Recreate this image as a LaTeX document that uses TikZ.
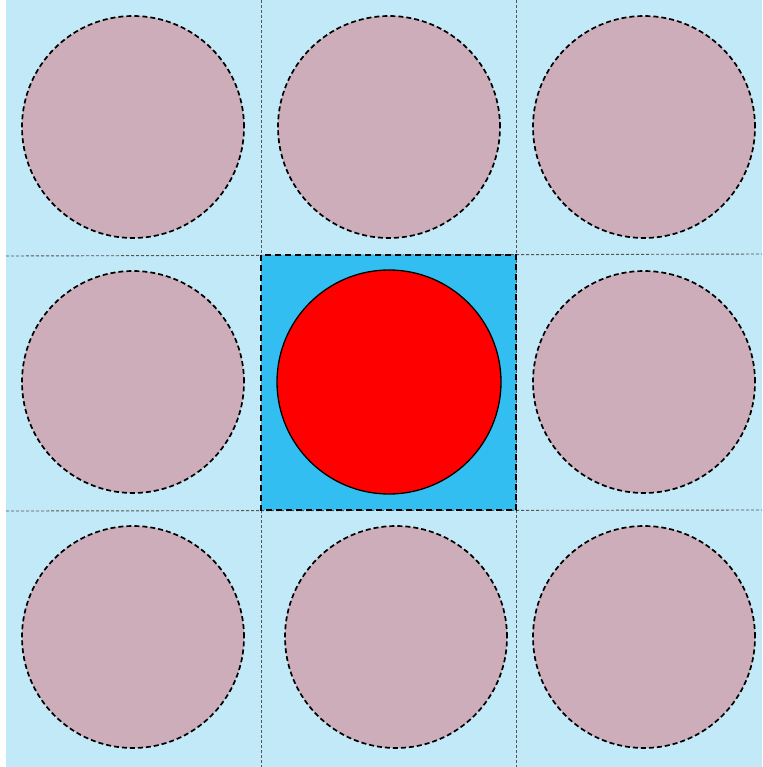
\documentclass[tikz,border=0pt]{standalone}
\usepackage{tikz}
\usepackage{xcolor}
\usetikzlibrary{positioning}
\definecolor{cellblue}{HTML}{C1E9F8}
\definecolor{midblue}{HTML}{33BEF2}
\definecolor{ghostpink}{HTML}{CDADB9}
\definecolor{gridgray}{HTML}{555555}
\tikzset{
  ghostCell/.style={circle, draw=black, fill=ghostpink, line width=1.7pt, dash pattern=on 5pt off 3pt, minimum size=222pt, inner sep=0pt},
  realCell/.style={circle, draw=black, fill=red, line width=1.3pt, minimum size=224pt, inner sep=0pt},
  gridLine/.style={draw=gridgray, line width=0.9pt, dash pattern=on 3pt off 2pt},
  homeBox/.style={draw=black, fill=midblue, line width=1.7pt, dash pattern=on 6pt off 4pt}
}
\begin{document}
\begin{tikzpicture}[x=1pt,y=-1pt]
  \useasboundingbox (0,0) rectangle (762,767);
  \fill[cellblue] (6,0) rectangle (762,767);
  % periodic images
  \draw[gridLine] (261,0) -- (261,767);
  \draw[gridLine] (516,0) -- (516,767);
  \draw[gridLine] (6,256) -- (762,254);
  \draw[gridLine] (6,511) -- (762,510);
  \node[ghostCell] (img11) at (133,127) {};
  \node[ghostCell] (img12) at (389,127) {};
  \node[ghostCell] (img13) at (644,127) {};
  \node[ghostCell] (img21) at (133,382) {};
  \node[ghostCell] (img23) at (644,382) {};
  \node[ghostCell] (img31) at (133,637) {};
  \node[ghostCell] (img32) at (396,637) {};
  \node[ghostCell] (img33) at (644,637) {};
  % simulation box
  \draw[homeBox] (261,255) rectangle (516,510);
  \node[realCell] (cell) at (389,382) {};
\end{tikzpicture}
\end{document}
